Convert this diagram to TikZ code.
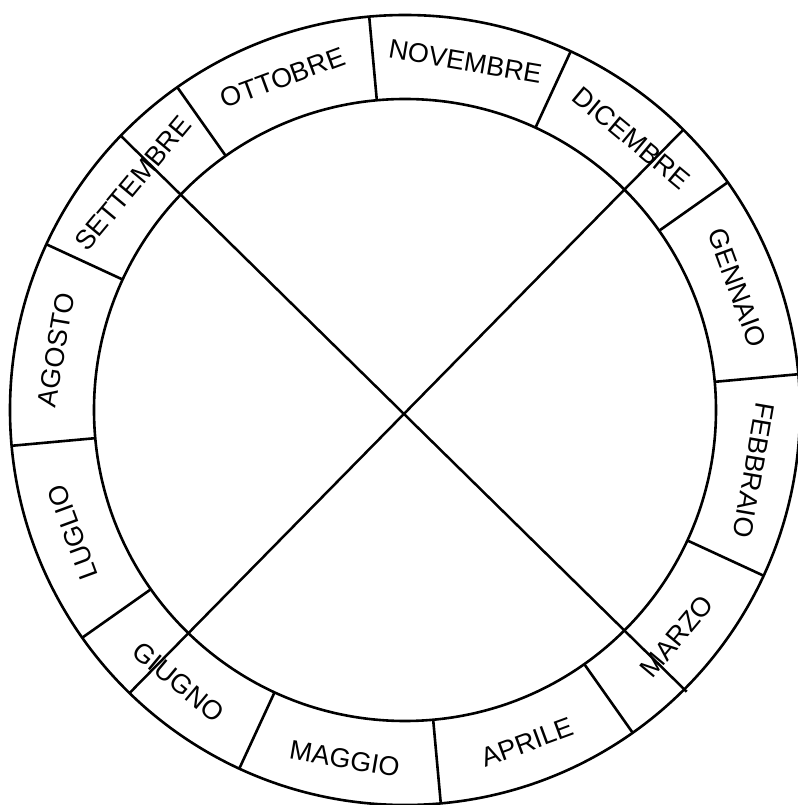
\documentclass[tikz,border=0pt]{standalone}
\usepackage{fontspec}
\setmainfont{Liberation Sans}
\begin{document}
\begin{tikzpicture}[x=1pt,y=1pt,
  ring/.style={draw=black, line width=2.6pt},
  cross/.style={draw=black, line width=2.5pt},
  month/.style={font=\fontsize{27}{27}\selectfont, inner sep=0pt, anchor=center}]
\useasboundingbox (-405,-395) rectangle (392,410);
\draw[ring] (0,0) circle (395);
\draw[ring] (0,0) circle (311);
\foreach \a in {5.2,35.2,65.2,95.2,125.2,155.2,185.2,215.2,245.2,275.2,305.2,335.2}
  \draw[ring] (\a:311) -- (\a:395);
\node[month, rotate=-69.8] (gennaio)   at (20.2:354)   {GENNAIO};
\node[month, rotate=-99.8] (febbraio)  at (-9.8:354)   {FEBBRAIO};
\node[month, rotate=50.2]  (marzo)     at (-39.8:354)  {MARZO};
\node[month, rotate=20.2]  (aprile)    at (-69.8:354)  {APRILE};
\node[month, rotate=-9.8]  (maggio)    at (-99.8:354)  {MAGGIO};
\node[month, rotate=-39.8] (giugno)    at (-129.8:354) {GIUGNO};
\node[month, rotate=110.2] (luglio)    at (200.2:354)  {LUGLIO};
\node[month, rotate=80.2]  (agosto)    at (170.2:354)  {AGOSTO};
\node[month, rotate=50.2]  (settembre) at (140.2:354)  {SETTEMBRE};
\node[month, rotate=20.2]  (ottobre)   at (110.2:354)  {OTTOBRE};
\node[month, rotate=-9.8]  (novembre)  at (80.2:354)   {NOVEMBRE};
\node[month, rotate=-39.8] (dicembre)  at (50.2:354)   {DICEMBRE};
\coordinate (ne) at (278,280);
\coordinate (nw) at (-283.3,273.3);
\coordinate (se) at (281.7,-281.7);
\coordinate (sw) at (-275.7,-283.3);
\draw[cross] (ne) -- (sw);
\draw[cross] (nw) -- (se);
\end{tikzpicture}
\end{document}
